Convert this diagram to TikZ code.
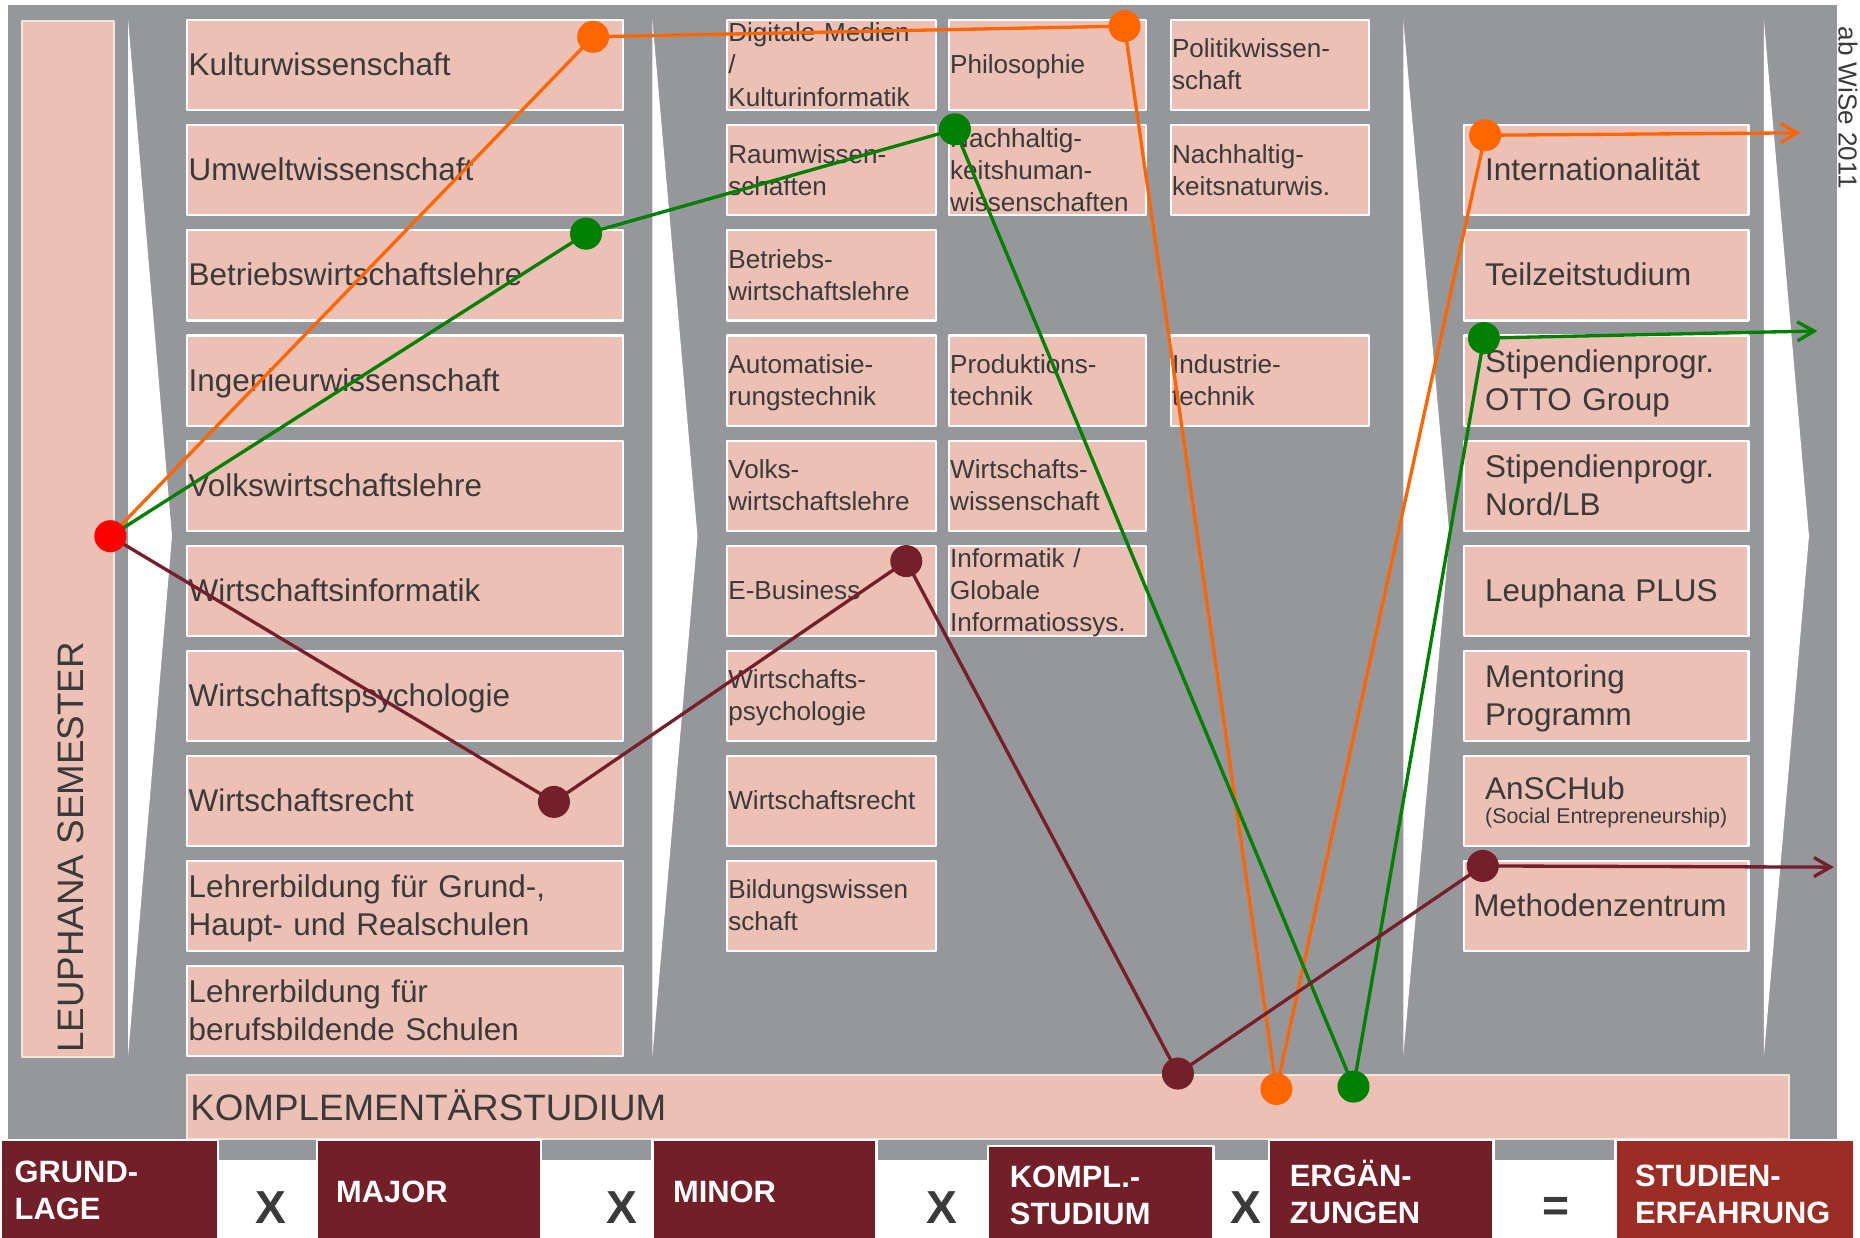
\documentclass[tikz,border=0pt]{standalone}
\usepackage{fontspec}
\setmainfont{Liberation Sans}
\usetikzlibrary{arrows.meta}
\definecolor{bggray}{HTML}{96979B}
\definecolor{pinkbox}{HTML}{ECC0B5}
\definecolor{txt}{HTML}{3A3A3A}
\definecolor{cream}{HTML}{EEE8DA}
\definecolor{darkred}{HTML}{731F28}
\definecolor{redbox}{HTML}{9C2D25}
\definecolor{lorange}{HTML}{FF6600}
\definecolor{lgreen}{HTML}{008000}
\definecolor{ldark}{HTML}{741F29}
\definecolor{lred}{HTML}{FF0000}
\newcommand\ms{\rule[-0.25em]{0pt}{1.17em}}
\hyphenpenalty=10000
\exhyphenpenalty=10000
\pgfdeclarelayer{front}
\pgfsetlayers{main,front}
\begin{document}
\begin{tikzpicture}[x=0.5pt,y=-0.5pt,line join=round,
  pbox/.style={draw=white,line width=0.9pt,fill=pinkbox,anchor=north west,inner ysep=0pt,outer sep=0pt,
    text=txt,align=left,execute at begin node=\ms,execute at end node=\ms,minimum height=38pt},
  majorbox/.style={pbox,inner xsep=0.5pt,minimum width=183.5pt,text width=182.5pt,
    font=\fontsize{13.25}{16}\selectfont},
  minfont/.style={pbox,inner xsep=0.5pt,font=\fontsize{11}{13.5}\selectfont},
  colb/.style={minfont,minimum width=88pt,text width=87pt},
  colc/.style={minfont,minimum width=83pt,text width=82pt},
  cold/.style={minfont,minimum width=83.5pt,text width=82.5pt},
  tall/.style={inner ysep=-2pt},
  ebox/.style={pbox,inner xsep=9pt,minimum width=120pt,text width=102pt,
    font=\fontsize{13.25}{16}\selectfont},
  dbox/.style={draw=white,line width=1pt,fill=darkred,anchor=north west,inner sep=0pt,minimum height=43pt},
  blabel/.style={anchor=west,text=white,font=\fontsize{13}{15.5}\selectfont\bfseries,align=left,
    text width=100pt,inner sep=0pt,execute at begin node=\ms,execute at end node=\ms},
  xmark/.style={text=txt,font=\fontsize{19.5}{20}\selectfont\bfseries,inner sep=0pt},
  dot/.style={circle,minimum size=13.5pt,inner sep=0pt,draw=none},
  pline/.style={line width=1.4pt,line join=round},
  tip/.style={-{Straight Barb[length=7pt,width=8pt]}}
]
\useasboundingbox (0,0) rectangle (1568,1043.6);
% background
\fill[bggray] (7,4) rectangle (1549,978);
% white wedges
\fill[white] (108,17) -- (145,452) -- (108,890) -- cycle;
\fill[white] (550,17) -- (588,452) -- (550,890) -- cycle;
\fill[white] (1183,17) -- (1222,452) -- (1183,890) -- cycle;
\fill[white] (1487,17) -- (1525,452) -- (1487,890) -- cycle;

% Leuphana semester column
\node[draw=cream,line width=0.9pt,fill=pinkbox,anchor=north west,inner sep=0pt,
  minimum width=38.5pt,minimum height=436.5pt] (leu) at (18,17) {};
\node[rotate=90,anchor=base west,text=txt,font=\fontsize{15.5}{18}\selectfont,inner sep=0pt] (leut) at (70,888) {LEUPHANA SEMESTER};

% Major column
\node[majorbox] (m1) at (158,17) {Kulturwissenschaft};
\node[majorbox] (m2) at (158,105.6) {Umweltwissenschaft};
\node[majorbox] (m3) at (158,194.2) {Betriebswirtschaftslehre};
\node[majorbox] (m4) at (158,282.8) {Ingenieurwissenschaft};
\node[majorbox] (m5) at (158,371.4) {Volkswirtschaftslehre};
\node[majorbox] (m6) at (158,460) {Wirtschaftsinformatik};
\node[majorbox] (m7) at (158,548.6) {Wirtschaftspsychologie};
\node[majorbox] (m8) at (158,637.2) {Wirtschaftsrecht};
\node[majorbox] (m9) at (158,725.8) {Lehrerbildung für Grund-,\\Haupt- und Realschulen};
\node[majorbox] (m10) at (158,814.4) {Lehrerbildung für\\berufsbildende Schulen};

% Minor columns
\node[colb,tall] (b1) at (613,17) {Digitale Medien\\/\\Kulturinformatik};
\node[colb] (b2) at (613,105.6) {Raumwissen-\\schaften};
\node[colb] (b3) at (613,194.2) {Betriebs-\\wirtschaftslehre};
\node[colb] (b4) at (613,282.8) {Automatisie-\\rungstechnik};
\node[colb] (b5) at (613,371.4) {Volks-\\wirtschaftslehre};
\node[colb] (b6) at (613,460) {E-Business};
\node[colb] (b7) at (613,548.6) {Wirtschafts-\\psychologie};
\node[colb] (b8) at (613,637.2) {Wirtschaftsrecht};
\node[colb] (b9) at (613,725.8) {Bildungswissen\\schaft};

\node[colc] (c1) at (800,17) {Philosophie};
\node[colc,tall] (c2) at (800,105.6) {Nachhaltig-\\keitshuman-\\wissenschaften};
\node[colc] (c4) at (800,282.8) {Produktions-\\technik};
\node[colc] (c5) at (800,371.4) {Wirtschafts-\\wissenschaft};
\node[colc,tall] (c6) at (800,460) {Informatik /\\Globale\\Informatiossys.};

\node[cold] (d1) at (987,17) {Politikwissen-\\schaft};
\node[cold] (d2) at (987,105.6) {Nachhaltig-\\keitsnaturwis.};
\node[cold] (d4) at (987,282.8) {Industrie-\\technik};

% Ergaenzungen column
\node[ebox] (e2) at (1234,105.6) {Internationalität};
\node[ebox] (e3) at (1234,194.2) {Teilzeitstudium};
\node[ebox] (e4) at (1234,282.8) {Stipendienprogr.\\OTTO Group};
\node[ebox] (e5) at (1234,371.4) {Stipendienprogr.\\Nord/LB};
\node[ebox] (e6) at (1234,460) {Leuphana PLUS};
\node[ebox] (e7) at (1234,548.6) {Mentoring\\Programm};
\node[ebox] (e8) at (1234,637.2) {AnSCHub\\[-5.5pt]{\fontsize{9}{10.5}\selectfont\mbox{(Social\hspace{2.5pt}Entrepreneurship)}}};
\node[ebox] (e9) at (1234,725.8) {\hspace*{-5pt}Methodenzentrum};

% Komplementaerstudium
\node[draw=cream,line width=0.9pt,fill=pinkbox,anchor=north west,inner sep=0pt,
  minimum width=675pt,minimum height=27pt] (komp) at (157,905) {};
\node[anchor=base west,text=txt,font=\fontsize{15.5}{18}\selectfont,inner sep=0pt] (kompt) at (160,944.5) {KOMPLEMENTÄRSTUDIUM};

% side note
\node[rotate=-90,anchor=base west,text=txt,font=\fontsize{11}{13}\selectfont,inner sep=0pt] (wise) at (1550,22) {ab WiSe 2011};

% bottom formula
\node[dbox,minimum width=91.5pt] (fg) at (0,960) {};
\node[dbox,minimum width=94.5pt] (fma) at (266,960) {};
\node[dbox,minimum width=94.5pt] (fmi) at (549,960) {};
\node[dbox,minimum width=95pt,minimum height=40.5pt] (fk) at (832,965) {};
\node[dbox,minimum width=94.5pt] (fe) at (1069,960) {};
\node[dbox,fill=redbox,minimum width=100.5pt] (fs) at (1361,960) {};

\node[blabel] (lg) at (12,1004) {GRUND-\\LAGE};
\node[blabel] (lma) at (283,1005) {MAJOR};
\node[blabel] (lmi) at (567,1005) {MINOR};
\node[blabel] (lk) at (851,1008) {KOMPL.-\\STUDIUM};
\node[blabel] (le) at (1087,1007) {ERGÄN-\\ZUNGEN};
\node[blabel] (ls) at (1378,1007) {STUDIEN-\\ERFAHRUNG};

\node[xmark] (x1) at (228,1018) {X};
\node[xmark] (x2) at (524,1018) {X};
\node[xmark] (x3) at (794,1018) {X};
\node[xmark] (x4) at (1050,1018) {X};
\node[xmark] (eq) at (1312,1020) {=};

% dots (front layer)
\begin{pgfonlayer}{front}
\node[dot,fill=lred] (r0) at (93,452) {};
\node[dot,fill=lorange] (o1) at (500,31) {};
\node[dot,fill=lorange] (o2) at (948,22) {};
\node[dot,fill=lorange] (o3) at (1076,918) {};
\node[dot,fill=lorange] (o4) at (1252,114) {};
\node[dot,fill=lgreen] (g1) at (494,197) {};
\node[dot,fill=lgreen] (g2) at (805,109) {};
\node[dot,fill=lgreen] (g3) at (1141,916) {};
\node[dot,fill=lgreen] (g4) at (1251,285) {};
\node[dot,fill=ldark] (d1x) at (467,676) {};
\node[dot,fill=ldark] (d2x) at (764,473) {};
\node[dot,fill=ldark] (d3x) at (993,905) {};
\node[dot,fill=ldark] (d4x) at (1250,730) {};
\end{pgfonlayer}
\coordinate (oend) at (1518,112);
\coordinate (gend) at (1532,279);
\coordinate (dend) at (1546,731);

% paths
\draw[pline,lorange] (r0.center) -- (o1.center) -- (o2.center) -- (o3.center) -- (o4.center);
\draw[pline,lorange,tip] (o4.center) -- (oend);
\draw[pline,lgreen] (r0.center) -- (g1.center) -- (g2.center) -- (g3.center) -- (g4.center);
\draw[pline,lgreen,tip] (g4.center) -- (gend);
\draw[pline,ldark] (r0.center) -- (d1x.center) -- (d2x.center) -- (d3x.center) -- (d4x.center);
\draw[pline,ldark,tip] (d4x.center) -- (dend);
\end{tikzpicture}
\end{document}
